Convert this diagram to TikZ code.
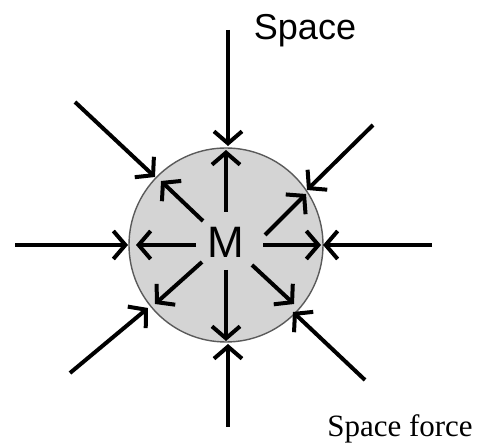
\documentclass[tikz,border=0pt]{standalone}
\usepackage{fontspec}
\setmainfont{Liberation Sans}
\newfontfamily\serifface{Liberation Serif}
\usetikzlibrary{arrows.meta}
\definecolor{ballfill}{RGB}{212,212,212}
\definecolor{ballline}{RGB}{90,90,90}
\tikzset{
  force/.style={line width=4pt, -{Straight Barb[length=12pt,width=28pt,line width=4pt]}},
  ball/.style={circle, draw=ballline, line width=1.4pt, fill=ballfill, minimum size=194pt, inner sep=0pt}
}
\begin{document}
\begin{tikzpicture}[x=1pt,y=-1pt]
\useasboundingbox (0,0) rectangle (477,443);
\node[ball] (c) at (226,245) {};
\node[font=\fontsize{44}{48}\selectfont, anchor=base] (m) at (226,258) {M};
% outer arrow start points and tips
\coordinate (t0) at (228,30);   \coordinate (t1) at (228,146);
\coordinate (b0) at (228,427);  \coordinate (b1) at (228,344);
\coordinate (l0) at (15,245);   \coordinate (l1) at (128,245);
\coordinate (r0) at (432,245);  \coordinate (r1) at (323,245);
\coordinate (ul0) at (75,102);  \coordinate (ul1) at (155,177);
\coordinate (ur0) at (373,125); \coordinate (ur1) at (307,190);
\coordinate (ll0) at (70,373);  \coordinate (ll1) at (148,308);
\coordinate (lr0) at (365,380); \coordinate (lr1) at (293,312);
% inner arrow start points and tips
\coordinate (iu0) at (226,212);  \coordinate (iu1) at (226,150);
\coordinate (id0) at (226,270);  \coordinate (id1) at (226,341);
\coordinate (il0) at (196,245);  \coordinate (il1) at (136,245);
\coordinate (ir0) at (263,245);  \coordinate (ir1) at (321,245);
\coordinate (iul0) at (203,221); \coordinate (iul1) at (161,181);
\coordinate (iur0) at (265,235); \coordinate (iur1) at (306,194);
\coordinate (ill0) at (202,262); \coordinate (ill1) at (155,304);
\coordinate (ilr0) at (252,265); \coordinate (ilr1) at (294,304);
\foreach \a in {t,b,l,r,ul,ur,ll,lr}{\draw[force] (\a0) -- (\a1);}
\foreach \a in {iu,id,il,ir,iul,iur,ill,ilr}{\draw[force] (\a0) -- (\a1);}
\node[font=\fontsize{36}{40}\selectfont, anchor=base] (sp) at (305,40) {Space};
\node[font=\serifface\fontsize{31}{34}\selectfont, anchor=base] (sf) at (400,437) {Space force};
\end{tikzpicture}
\end{document}
